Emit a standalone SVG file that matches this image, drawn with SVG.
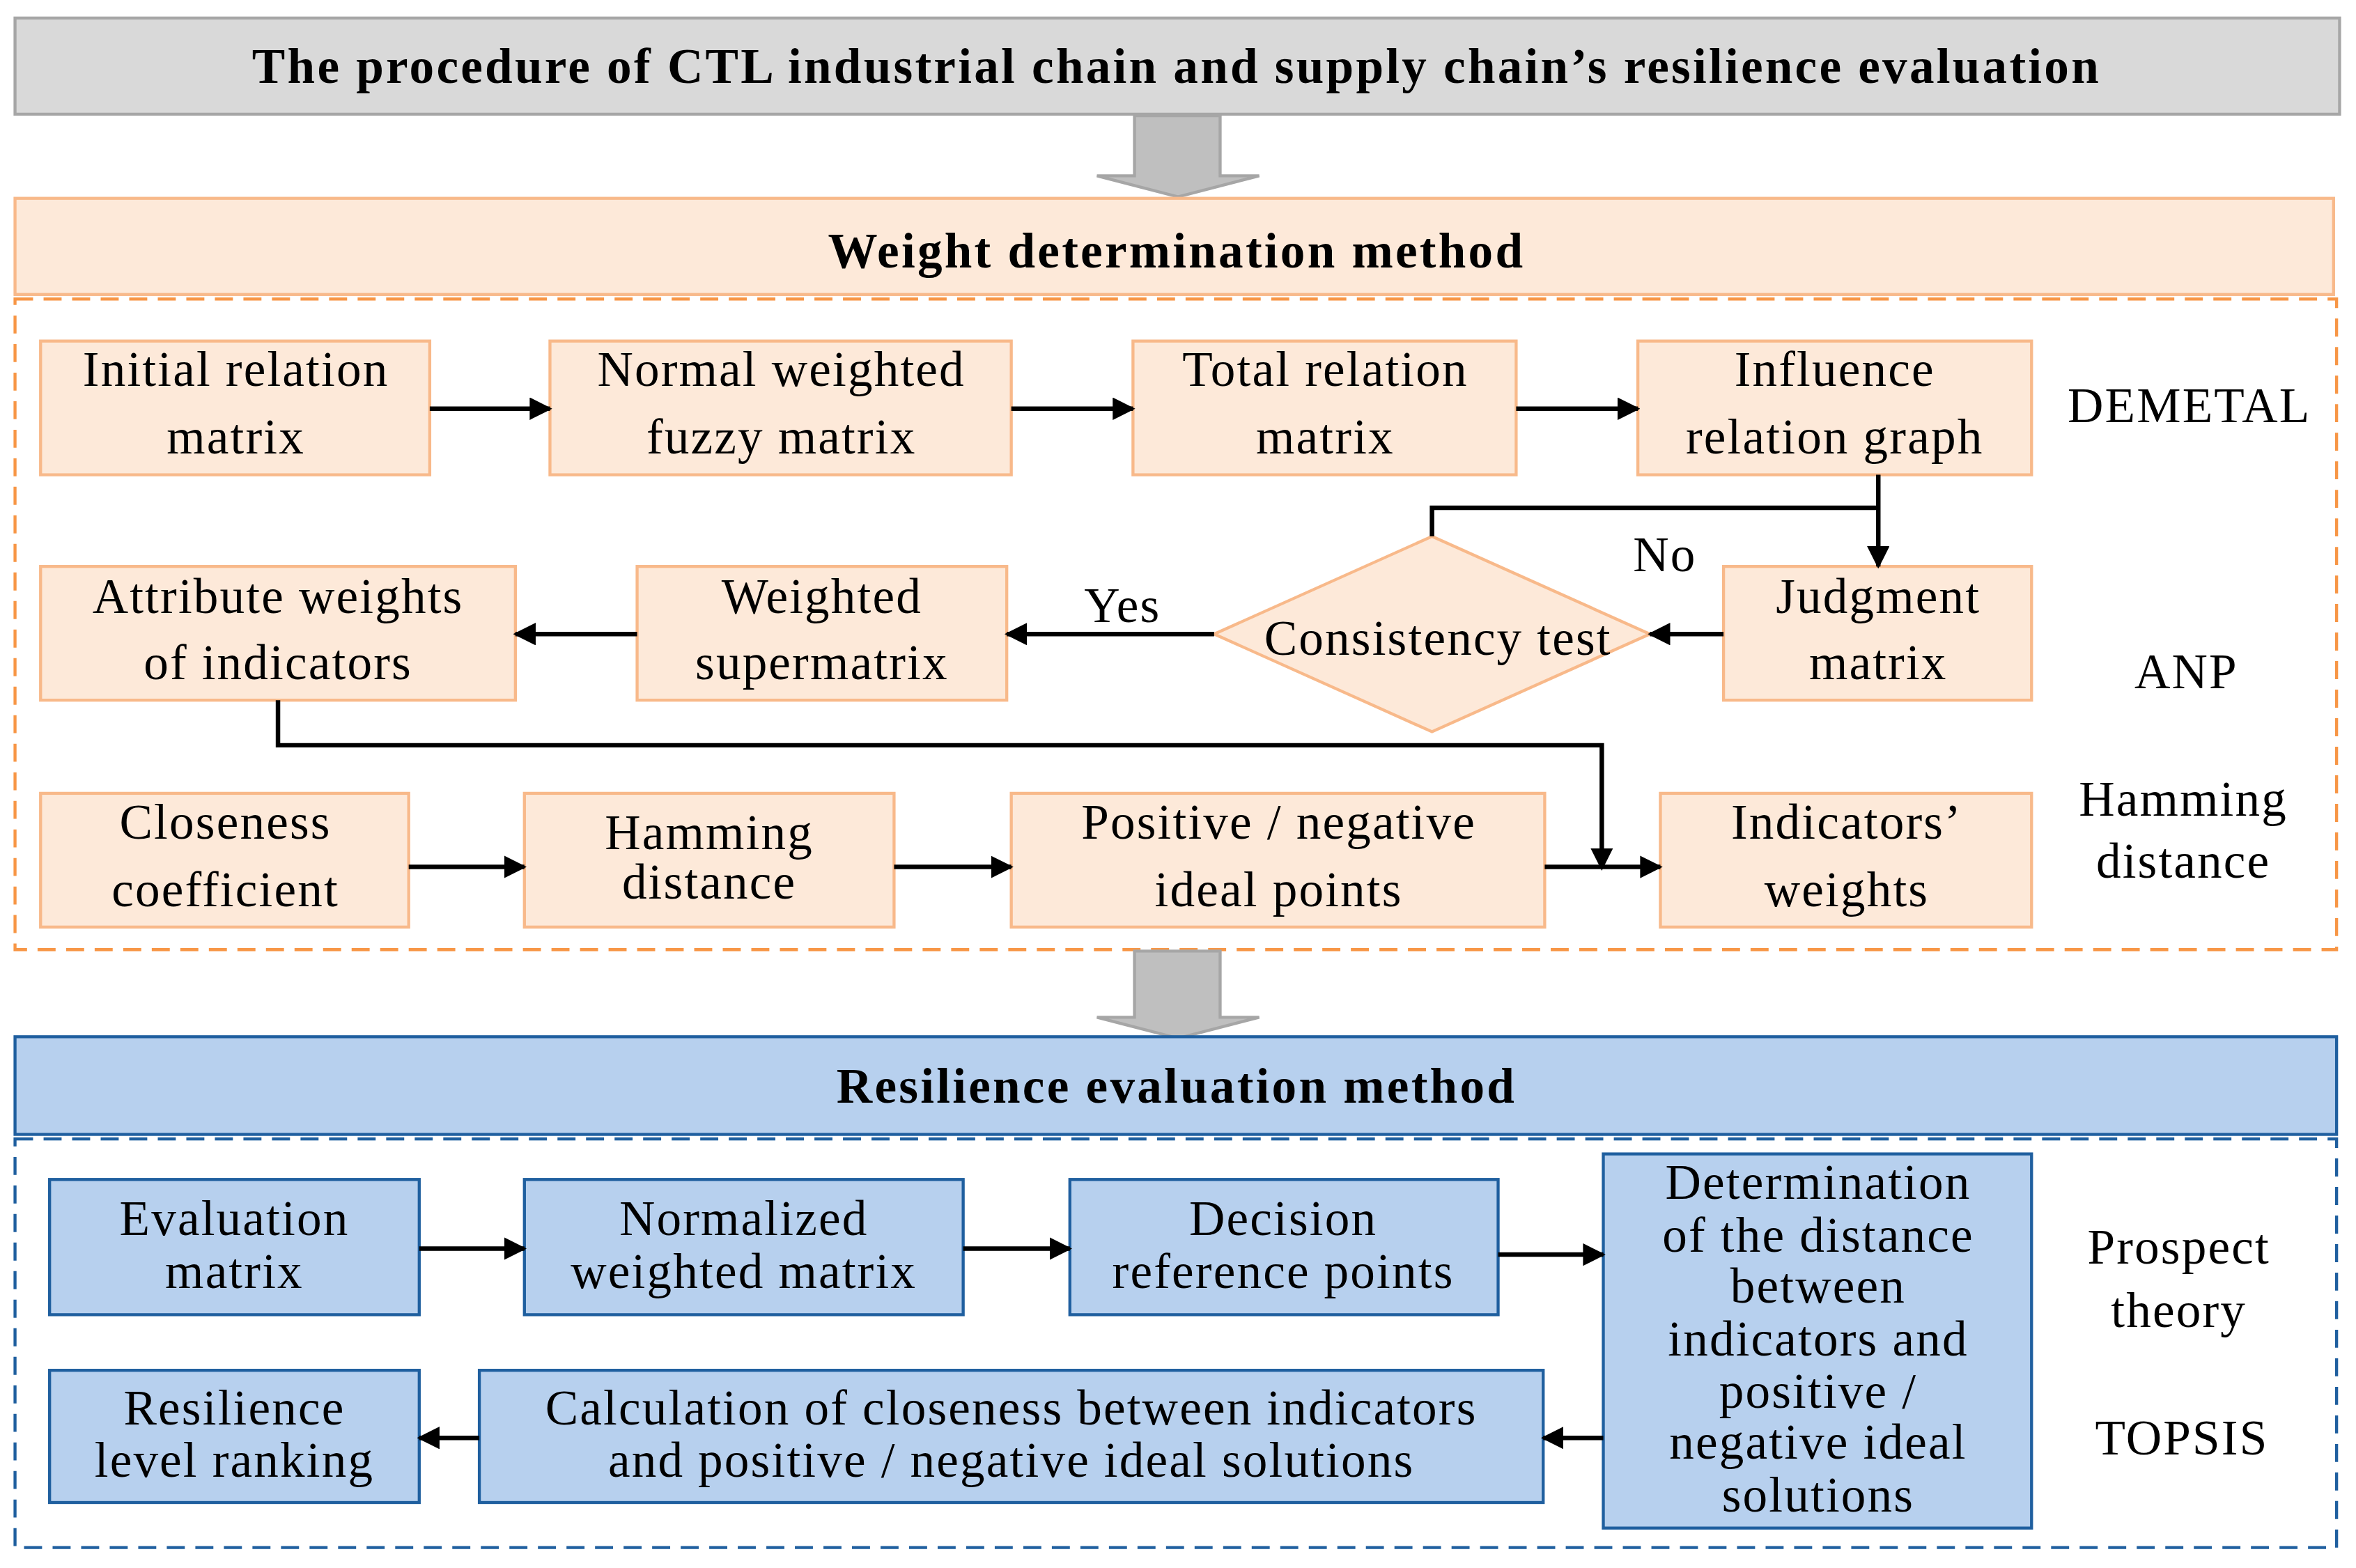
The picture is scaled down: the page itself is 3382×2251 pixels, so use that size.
<svg xmlns="http://www.w3.org/2000/svg" width="3382" height="2251" viewBox="0 0 3382 2251">
<defs>
<marker id="ah" viewBox="0 0 10 10" refX="9" refY="5" markerWidth="5" markerHeight="5" orient="auto" markerUnits="strokeWidth"><path d="M0,0 L10,5 L0,10 z" fill="#000"/></marker>
<style>
text{font-family:"Liberation Serif","DejaVu Serif",serif;font-size:33px;letter-spacing:1px;fill:#000;text-anchor:middle}
.b{font-weight:bold;letter-spacing:1.5px}
.o{fill:#fde9d9;stroke:#f8b98a;stroke-width:2}
.u{fill:#b7d0ee;stroke:#1f5f9f;stroke-width:2}
.c{fill:none;stroke:#000;stroke-width:3;marker-end:url(#ah)}
.l{fill:none;stroke:#000;stroke-width:3}
.g{fill:#bfbfbf;stroke:#a6a6a6;stroke-width:2}
</style>
</defs>
<rect width="3382" height="2251" fill="#fff"/>
<g transform="scale(2.157)">
<g id="title"><rect x="10" y="12" width="1547" height="64" fill="#d9d9d9" stroke="#a6a6a6" stroke-width="2"/><text class="b" x="783" y="55">The procedure of CTL industrial chain and supply chain’s resilience evaluation</text></g>
<g id="arrow1"><path class="g" d="M755,77 H812 V117 H838 L784,131 L730,117 H755 Z"/></g>
<g id="weightHeader"><rect class="o" x="10" y="132" width="1543" height="64"/><text class="b" x="783" y="178">Weight determination method</text></g>
<rect x="10" y="199" width="1545" height="433" fill="none" stroke="#f79646" stroke-width="2" stroke-dasharray="12,7"/>
<g id="n1"><rect class="o" x="27" y="227" width="259" height="89"/><text x="157" y="257">Initial relation</text><text x="157" y="302">matrix</text></g>
<g id="n2"><rect class="o" x="366" y="227" width="307" height="89"/><text x="520" y="257">Normal weighted</text><text x="520" y="302">fuzzy matrix</text></g>
<g id="n3"><rect class="o" x="754" y="227" width="255" height="89"/><text x="882" y="257">Total relation</text><text x="882" y="302">matrix</text></g>
<g id="n4"><rect class="o" x="1090" y="227" width="262" height="89"/><text x="1221" y="257">Influence</text><text x="1221" y="302">relation graph</text></g>
<text x="1457" y="281">DEMETAL</text>
<g id="n5"><rect class="o" x="27" y="377" width="316" height="89"/><text x="185" y="408">Attribute weights</text><text x="185" y="452">of indicators</text></g>
<g id="n6"><rect class="o" x="424" y="377" width="246" height="89"/><text x="547" y="408">Weighted</text><text x="547" y="452">supermatrix</text></g>
<g id="n7"><polygon class="o" points="953,357 1098,422 953,487 808,422"/><text x="957" y="436">Consistency test</text></g>
<g id="n8"><rect class="o" x="1147" y="377" width="205" height="89"/><text x="1250" y="408">Judgment</text><text x="1250" y="452">matrix</text></g>
<text x="1455" y="458">ANP</text>
<g id="n9"><rect class="o" x="27" y="528" width="245" height="89"/><text x="150" y="558">Closeness</text><text x="150" y="603">coefficient</text></g>
<g id="n10"><rect class="o" x="349" y="528" width="246" height="89"/><text x="472" y="565">Hamming</text><text x="472" y="598">distance</text></g>
<g id="n11"><rect class="o" x="673" y="528" width="355" height="89"/><text x="851" y="558">Positive / negative</text><text x="851" y="603">ideal points</text></g>
<g id="n12"><rect class="o" x="1105" y="528" width="247" height="89"/><text x="1229" y="558">Indicators’</text><text x="1229" y="603">weights</text></g>
<text x="1453" y="543">Hamming</text><text x="1453" y="584">distance</text>
<g id="arrow2"><path class="g" d="M755,633 H812 V677 H838 L784,691 L730,677 H755 Z"/></g>
<g id="resHeader"><rect class="u" x="10" y="690" width="1545" height="65"/><text class="b" x="783" y="734">Resilience evaluation method</text></g>
<rect x="10" y="758" width="1545" height="272" fill="none" stroke="#1f5f9f" stroke-width="2" stroke-dasharray="12,7"/>
<g id="m1"><rect class="u" x="33" y="785" width="246" height="90"/><text x="156" y="822">Evaluation</text><text x="156" y="857">matrix</text></g>
<g id="m2"><rect class="u" x="349" y="785" width="292" height="90"/><text x="495" y="822">Normalized</text><text x="495" y="857">weighted matrix</text></g>
<g id="m3"><rect class="u" x="712" y="785" width="285" height="90"/><text x="854" y="822">Decision</text><text x="854" y="857">reference points</text></g>
<g id="m4"><rect class="u" x="1067" y="768" width="285" height="249"/><text x="1210" y="798">Determination</text><text x="1210" y="833">of the distance</text><text x="1210" y="867">between</text><text x="1210" y="902">indicators and</text><text x="1210" y="937">positive /</text><text x="1210" y="971">negative ideal</text><text x="1210" y="1006">solutions</text></g>
<g id="m5"><rect class="u" x="33" y="912" width="246" height="88"/><text x="156" y="948">Resilience</text><text x="156" y="983">level ranking</text></g>
<g id="m6"><rect class="u" x="319" y="912" width="708" height="88"/><text x="673" y="948">Calculation of closeness between indicators</text><text x="673" y="983">and positive / negative ideal solutions</text></g>
<text x="1450" y="841">Prospect</text><text x="1450" y="883">theory</text>
<text x="1452" y="968">TOPSIS</text>
<text x="1108" y="380">No</text>
<text x="747" y="414">Yes</text>
<g id="connectors">
<path class="c" d="M286,272 H366"/>
<path class="c" d="M673,272 H754"/>
<path class="c" d="M1009,272 H1090"/>
<path class="c" d="M1250,316 V377"/>
<path class="l" d="M953,357 V338 H1250"/>
<path class="c" d="M1147,422 H1098"/>
<path class="c" d="M808,422 H670"/>
<path class="c" d="M424,422 H343"/>
<path class="c" d="M185,466 V496 H1066 V578"/>
<path class="c" d="M272,577 H349"/>
<path class="c" d="M595,577 H673"/>
<path class="c" d="M1028,577 H1105"/>
<path class="c" d="M279,831 H349"/>
<path class="c" d="M641,831 H712"/>
<path class="c" d="M997,835 H1067"/>
<path class="c" d="M1067,957 H1027"/>
<path class="c" d="M319,957 H279"/>
</g>
</g>
</svg>
